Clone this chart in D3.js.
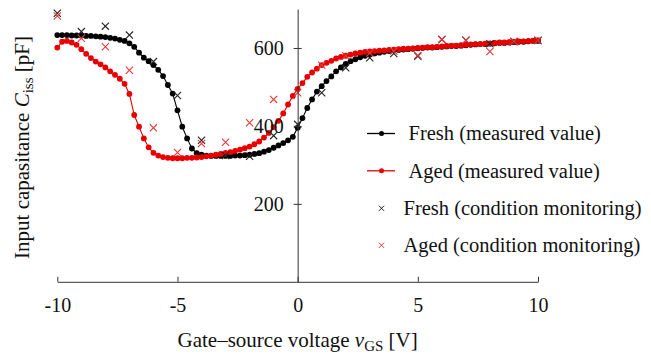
<!DOCTYPE html>
<html>
<head>
<meta charset="utf-8">
<script src="https://cdn.jsdelivr.net/npm/d3@7"></script>
<style>
  html, body { margin: 0; padding: 0; background: #fff; }
  svg { display: block; }
  text { font-family: "Liberation Serif", "Times New Roman", serif; fill: #111; }
</style>
</head>
<body>
<svg id="chart" width="651" height="359"></svg>
<script>
// ---------- data ----------
const voltages = d3.range(-10, 10.0001, 0.2).map(v => Math.round(v * 10) / 10);
const freshMeasured = [
  633, 633, 633, 632, 632, 632, 631, 631, 630, 629,
  628, 626, 624, 621, 618, 612, 603, 588, 575, 566,
  556, 544, 528, 505, 483, 440, 398, 368, 342, 330,
  326, 324, 323, 323, 323, 323, 323, 324, 324, 325,
  326, 328, 330, 334, 338, 344, 350, 356, 363, 372,
  395, 420, 446, 468, 488, 502, 515, 527, 540, 550,
  559, 566, 571, 576, 580, 583, 586, 588, 590, 592,
  594, 595, 596, 597, 598, 599, 600, 601, 601, 602,
  603, 604, 605, 605, 606, 607, 608, 609, 610, 610,
  611, 612, 613, 613, 614, 615, 616, 616, 617, 618,
  618
];
const agedMeasured = [
  601, 616, 618, 614, 608, 597, 585, 574, 565, 558,
  550, 540, 531, 521, 508, 482, 428, 398, 368, 345,
  331, 324, 320, 318, 317, 317, 317, 318, 318, 319,
  320, 322, 324, 326, 328, 331, 333, 336, 339, 343,
  347, 353, 360, 370, 382, 397, 413, 432, 455, 477,
  495, 510, 526, 537, 547, 556, 562, 567, 573, 577,
  580, 583, 586, 588, 590, 591, 592, 593, 594, 595,
  596, 597, 598, 598, 599, 600, 601, 602, 602, 603,
  604, 605, 606, 606, 607, 608, 609, 610, 610, 611,
  612, 613, 614, 614, 615, 616, 617, 617, 618, 619,
  620
];
const cmVoltages = d3.range(-10, 11, 1);
const freshMonitoring = [689, 642, 656, 633, 565, 478, 363, 324, 322, 375, 404, 485, 549, 575, 586, 579, 622, 620, 611, 616, 619];
const agedMonitoring  = [682, 625, 603, 543, 395, 332, 355, 358, 408, 468, 485, 556, 580, 587, 592, 581, 622, 620, 591, 617, 620];

const xTicks = [-10, -5, 0, 5, 10];
const yTicks = [200, 400, 600];
const legendLabels = [
  "Fresh (measured value)",
  "Aged (measured value)",
  "Fresh (condition monitoring)",
  "Aged (condition monitoring)"
];

// ---------- styles ----------
const BLACK = "#000000";
const RED = "#e80000";
const RED_X = "#e8383a";
const AXIS = "#333333";

// ---------- scales ----------
const x = d3.scaleLinear().domain([-10, 10]).range([57.3, 538]);
const y = d3.scaleLinear().domain([0, 700]).range([281.8, 9]);

const svg = d3.select("#chart");

// ---------- axes ----------
const xAxis = d3.axisBottom(x).tickValues(xTicks).tickSizeInner(-5).tickSizeOuter(0).tickPadding(16)
  .tickFormat(d => d < 0 ? "-" + Math.abs(d) : String(d));
const gx = svg.append("g").attr("transform", `translate(0,${y(0)})`).call(xAxis);
gx.select(".domain").attr("stroke", AXIS).attr("stroke-width", 1);
gx.selectAll(".tick line").attr("stroke", AXIS);
gx.selectAll(".tick text").attr("font-size", 20).attr("font-family", "Liberation Serif, serif").attr("fill", "#111");

const yAxis = d3.axisLeft(y).tickValues(yTicks).tickSizeInner(4).tickSizeOuter(0).tickPadding(10);
const gy = svg.append("g").attr("transform", `translate(${x(0)},0)`).call(yAxis);
gy.select(".domain").attr("stroke", AXIS).attr("stroke-width", 1);
gy.selectAll(".tick line").attr("stroke", AXIS).attr("x1", 4).attr("x2", -4);
gy.selectAll(".tick text").attr("font-size", 20).attr("font-family", "Liberation Serif, serif").attr("fill", "#111");

// ---------- series ----------
const line = d3.line().x(d => x(d[0])).y(d => y(d[1]));
function measured(vals, color) {
  const pts = voltages.map((v, i) => [v, vals[i]]);
  const g = svg.append("g");
  g.append("path").attr("d", line(pts)).attr("fill", "none").attr("stroke", color).attr("stroke-width", 1.1);
  g.selectAll("circle").data(pts).join("circle")
    .attr("cx", d => x(d[0])).attr("cy", d => y(d[1])).attr("r", 2.9).attr("fill", color);
}
function crosses(vals, color, s) {
  const g = svg.append("g");
  cmVoltages.forEach((v, i) => {
    const cx = x(v), cy = y(vals[i]);
    g.append("path").attr("d", `M${cx - s},${cy - s}L${cx + s},${cy + s}M${cx - s},${cy + s}L${cx + s},${cy - s}`)
      .attr("stroke", color).attr("stroke-width", 1.1).attr("fill", "none");
  });
}
measured(freshMeasured, BLACK);
measured(agedMeasured, RED);
crosses(freshMonitoring, "#222", 3.6);
crosses(agedMonitoring, RED_X, 3.6);

// bring axis labels on top
gx.raise(); gy.raise();

// ---------- legend ----------
const legendRows = [133.5, 170.8, 208.3, 245.3];
const lg = svg.append("g");
legendLabels.forEach((lab, i) => {
  const cy = legendRows[i];
  if (i < 2) {
    const c = i === 0 ? BLACK : RED;
    lg.append("line").attr("x1", 367).attr("x2", 395).attr("y1", cy).attr("y2", cy).attr("stroke", c).attr("stroke-width", 1.3);
    lg.append("circle").attr("cx", 381.5).attr("cy", cy).attr("r", 2.5).attr("fill", c);
    lg.append("text").attr("x", 408.5).attr("y", cy + 6.8).attr("font-size", 20.5).text(lab);
  } else {
    const c = i === 2 ? "#222" : RED_X;
    const s = 2.6, cx = 381.5;
    lg.append("path").attr("d", `M${cx - s},${cy - s}L${cx + s},${cy + s}M${cx - s},${cy + s}L${cx + s},${cy - s}`)
      .attr("stroke", c).attr("stroke-width", 1);
    lg.append("text").attr("x", 403.5).attr("y", cy + 6.8).attr("font-size", 20.5).text(lab);
  }
});

// ---------- axis titles ----------
const xl = svg.append("text").attr("x", x(0)).attr("y", 347).attr("text-anchor", "middle").attr("font-size", 21);
xl.append("tspan").text("Gate\u2013source voltage ");
xl.append("tspan").attr("font-style", "italic").text("v");
xl.append("tspan").attr("font-size", 15).attr("dy", 4).text("GS");
xl.append("tspan").attr("dy", -4).text(" [V]");

const yl = svg.append("text").attr("transform", "translate(29,147.5) rotate(-90)").attr("text-anchor", "middle").attr("font-size", 21);
yl.append("tspan").text("Input capasitance ");
yl.append("tspan").attr("font-style", "italic").text("C");
yl.append("tspan").attr("font-size", 15).attr("dy", 4).text("iss");
yl.append("tspan").attr("dy", -4).text(" [pF]");
</script>
</body>
</html>
